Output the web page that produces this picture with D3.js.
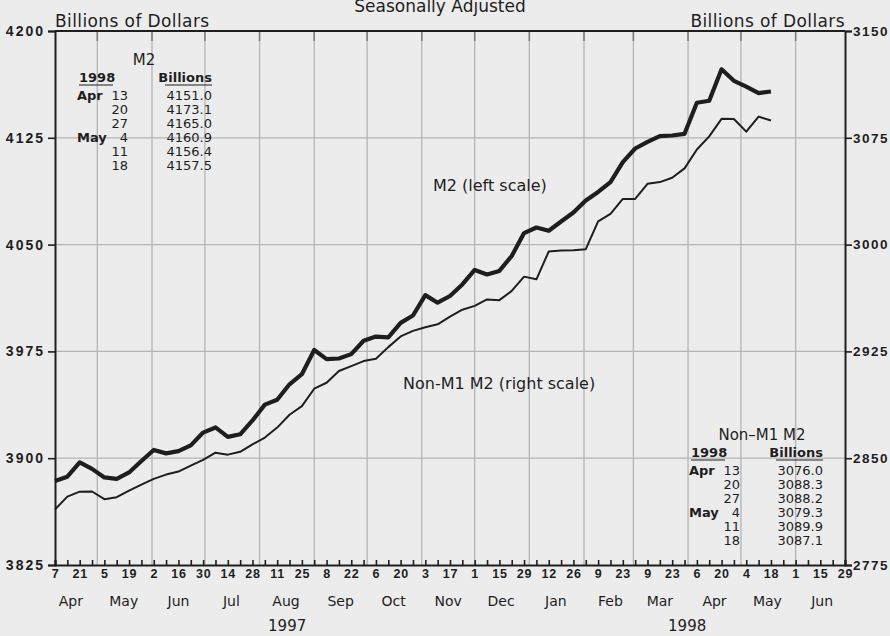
<!DOCTYPE html>
<html>
<head>
<meta charset="utf-8">
<script src="https://cdn.jsdelivr.net/npm/d3@7"></script>
<style>
  body { margin: 0; background: #ececec; }
  svg { display: block; }
  text { fill: #1e1e1e; font-family: "DejaVu Sans", sans-serif; }
  .num { font-family: "Liberation Sans", Arial, sans-serif; font-weight: bold; }
</style>
</head>
<body>
<div id="chart"></div>
<script>
// weekly data, Mondays, first week = Apr 7 1997
var startWeek = new Date(1997, 3, 7);
var endDate = new Date(1998, 5, 29);

var m2Values = [3884, 3887, 3897, 3892.5, 3886.5, 3885.5, 3890, 3898, 3905.8, 3903.4,
  3905, 3909, 3918, 3921.6, 3915, 3916.8, 3926.5, 3937.6, 3941, 3951.9,
  3959, 3976, 3969.6, 3970, 3973.1, 3982.5, 3985.4, 3984.9, 3995, 4000.2,
  4014.5, 4009.2, 4013.9, 4022, 4032.2, 4029, 4031.5, 4042, 4058.1, 4062,
  4059.7, 4066.2, 4072.5, 4081, 4087, 4093.9, 4107.9, 4117.5, 4122.2, 4126.2,
  4126.6, 4127.8, 4149.6, 4151.0, 4173.1, 4165.0, 4160.9, 4156.4, 4157.5];

var nonM1Values = [2814, 2823, 2826.5, 2826.6, 2821.2, 2822.6, 2827.3, 2831.5, 2835.5, 2838.5,
  2840.6, 2844.8, 2848.8, 2853.9, 2852.5, 2854.5, 2859.7, 2864.5, 2871.5, 2880.5,
  2886.6, 2898.8, 2903, 2911.2, 2914.7, 2918.2, 2919.9, 2928, 2935.5, 2939.4,
  2942, 2944, 2949.4, 2954.3, 2957, 2961.5, 2961, 2967.5, 2977.5, 2975.6,
  2995.2, 2995.8, 2996.1, 2996.8, 3016.3, 3021.6, 3032.1, 3032.1, 3042.7, 3043.9,
  3046.9, 3053.5, 3066.8, 3076.0, 3088.3, 3088.2, 3079.3, 3089.9, 3087.1];

var leftTicks = [3825, 3900, 3975, 4050, 4125, 4200];
var rightTicks = [2775, 2850, 2925, 3000, 3075, 3150];
var monthNames = ["Apr", "May", "Jun", "Jul", "Aug", "Sep", "Oct", "Nov", "Dec",
                  "Jan", "Feb", "Mar", "Apr", "May", "Jun"];
var years = ["1997", "1998"];
var tableRows = 6;

var svg = d3.select("#chart").append("svg").attr("width", 890).attr("height", 636);

var x = d3.scaleTime().domain([startWeek, endDate]).range([55, 845]);
var yLeft = d3.scaleLinear().domain([3825, 4200]).range([565, 31]);
var yRight = d3.scaleLinear().domain([2775, 3150]).range([565, 31]);

var weeks = m2Values.map(function(d, i){ return d3.timeMonday.offset(startWeek, i); });

// grid
var grid = svg.append("g").style("stroke", "#b4b4b4").style("stroke-width", 1.3);
grid.selectAll("line.h")
    .data(leftTicks.slice(1, -1))
    .enter().append("line")
      .attr("x1", 55).attr("x2", 845)
      .attr("y1", function(d){ return yLeft(d); })
      .attr("y2", function(d){ return yLeft(d); });

var monthStarts = d3.timeMonth.range(d3.timeDay.offset(startWeek, 1), endDate);
grid.selectAll("line.v")
    .data(monthStarts)
    .enter().append("line")
      .attr("x1", function(d){ return x(d); })
      .attr("x2", function(d){ return x(d); })
      .attr("y1", 31).attr("y2", 565);

svg.append("g").style("stroke", "#7a7a7a").style("stroke-width", 1.5)
  .selectAll("line")
    .data(monthStarts)
    .enter().append("line")
      .attr("x1", function(d){ return x(d); })
      .attr("x2", function(d){ return x(d); })
      .attr("y1", 31).attr("y2", 41);

// axes
var plain = d3.format("d");
var leftAxis = svg.append("g")
    .attr("transform", "translate(55,0)")
    .call(d3.axisLeft(yLeft).tickValues(leftTicks).tickFormat(plain).tickSize(7).tickPadding(3));

var rightAxis = svg.append("g")
    .attr("transform", "translate(845,0)")
    .call(d3.axisRight(yRight).tickValues(rightTicks).tickFormat(plain).tickSize(7).tickPadding(1));

var weekTicks = d3.timeMonday.range(startWeek, d3.timeDay.offset(endDate, 1));
var bottomAxis = svg.append("g")
    .attr("transform", "translate(0,565)")
    .call(d3.axisBottom(x).tickValues(weekTicks).tickSize(-5).tickPadding(4)
      .tickFormat(function(d, i){ return i % 2 === 0 ? d.getDate() : ""; }));

[leftAxis, rightAxis, bottomAxis].forEach(function(ax){
  ax.select(".domain").style("stroke", "#1e1e1e").style("stroke-width", 2);
  ax.selectAll(".tick line").style("stroke", "#1e1e1e").style("stroke-width", 1.6);
  ax.selectAll("text").attr("class", "num").style("fill", "#1e1e1e");
});
leftAxis.selectAll("text").style("font-size", "14px").style("letter-spacing", "2px");
rightAxis.selectAll("text").style("font-size", "13.5px").style("letter-spacing", "1.5px");
bottomAxis.selectAll("text").style("font-size", "12.5px").style("letter-spacing", "0.8px");

svg.append("line")
    .attr("x1", 55).attr("x2", 845).attr("y1", 31).attr("y2", 31)
    .style("stroke", "#1e1e1e").style("stroke-width", 2);

// month and year labels
svg.append("g").selectAll("text")
    .data(d3.timeMonth.range(new Date(1997, 3, 1), endDate))
    .enter().append("text")
      .attr("x", function(d){ return x(new Date(d.getFullYear(), d.getMonth(), 16)); })
      .attr("y", 606)
      .attr("text-anchor", "middle")
      .style("font-size", "14px")
      .text(function(d, i){ return monthNames[i]; });

var yearEdges = [x.range()[0], x(new Date(1998, 0, 1)), x.range()[1]];
svg.append("g").selectAll("text")
    .data(years)
    .enter().append("text")
      .attr("x", function(d, i){ return (yearEdges[i] + yearEdges[i + 1]) / 2 - (i === 0 ? 5 : 0); })
      .attr("y", 631)
      .attr("text-anchor", "middle")
      .style("font-size", "15px")
      .text(function(d){ return d; });

// lines
var m2Line = d3.line()
    .x(function(d, i){ return x(weeks[i]); })
    .y(function(d){ return yLeft(d); });
var nonM1Line = d3.line()
    .x(function(d, i){ return x(weeks[i]); })
    .y(function(d){ return yRight(d); });

svg.append("path").datum(nonM1Values).attr("d", nonM1Line)
    .style("fill", "none").style("stroke", "#1e1e1e").style("stroke-width", 2)
    .style("stroke-linejoin", "round");
svg.append("path").datum(m2Values).attr("d", m2Line)
    .style("fill", "none").style("stroke", "#1e1e1e").style("stroke-width", 4.2)
    .style("stroke-linejoin", "round");

// titles
svg.append("text").attr("x", 440).attr("y", 12).attr("text-anchor", "middle")
    .style("font-size", "17px").text("Seasonally Adjusted");
svg.append("text").attr("x", 55).attr("y", 27)
    .style("font-size", "17px").style("letter-spacing", "0.4px").text("Billions of Dollars");
svg.append("text").attr("x", 845).attr("y", 27).attr("text-anchor", "end")
    .style("font-size", "17px").style("letter-spacing", "0.4px").text("Billions of Dollars");
svg.append("text").attr("x", 433).attr("y", 191)
    .style("font-size", "16px").text("M2 (left scale)");
svg.append("text").attr("x", 403).attr("y", 389)
    .style("font-size", "16px").text("Non-M1 M2 (right scale)");

// latest values tables
function drawTable(opts){
  var g = svg.append("g");
  var fmt = d3.format(".1f");
  var rows = opts.values.slice(-tableRows);
  var rowWeeks = weeks.slice(-tableRows);
  g.append("text").attr("x", opts.titleX).attr("y", opts.top).attr("text-anchor", "middle")
      .style("font-size", "15px").text(opts.title);
  g.append("text").attr("x", opts.yearX).attr("y", opts.top + 17)
      .style("font-size", "13px").style("font-weight", "bold").text("1998");
  g.append("text").attr("x", opts.valRight).attr("y", opts.top + 17).attr("text-anchor", "end")
      .style("font-size", "13px").style("font-weight", "bold").text("Billions");
  g.append("line").attr("x1", opts.yearX).attr("x2", opts.yearX + 34)
      .attr("y1", opts.top + 20).attr("y2", opts.top + 20)
      .style("stroke", "#1e1e1e").style("stroke-width", 1.2);
  g.append("line").attr("x1", opts.valRight - 47).attr("x2", opts.valRight)
      .attr("y1", opts.top + 20).attr("y2", opts.top + 20)
      .style("stroke", "#1e1e1e").style("stroke-width", 1.2);
  rows.forEach(function(v, i){
    var ry = opts.top + 35 + i * 14;
    var w = rowWeeks[i];
    var prev = i > 0 ? rowWeeks[i - 1] : null;
    if (!prev || prev.getMonth() !== w.getMonth()) {
      g.append("text").attr("x", opts.yearX - 2).attr("y", ry)
          .style("font-size", "13px").style("font-weight", "bold")
          .text(d3.timeFormat("%b")(w));
    }
    g.append("text").attr("x", opts.dayRight).attr("y", ry).attr("text-anchor", "end")
        .style("font-size", "13px").text(w.getDate());
    g.append("text").attr("x", opts.valRight).attr("y", ry).attr("text-anchor", "end")
        .style("font-size", "13px").text(fmt(v));
  });
}

drawTable({values: m2Values, title: "M2", titleX: 144, top: 65,
           yearX: 79, dayRight: 128, valRight: 212});
drawTable({values: nonM1Values, title: "Non\u2013M1 M2", titleX: 762, top: 440,
           yearX: 691, dayRight: 740, valRight: 823});
</script>
</body>
</html>
